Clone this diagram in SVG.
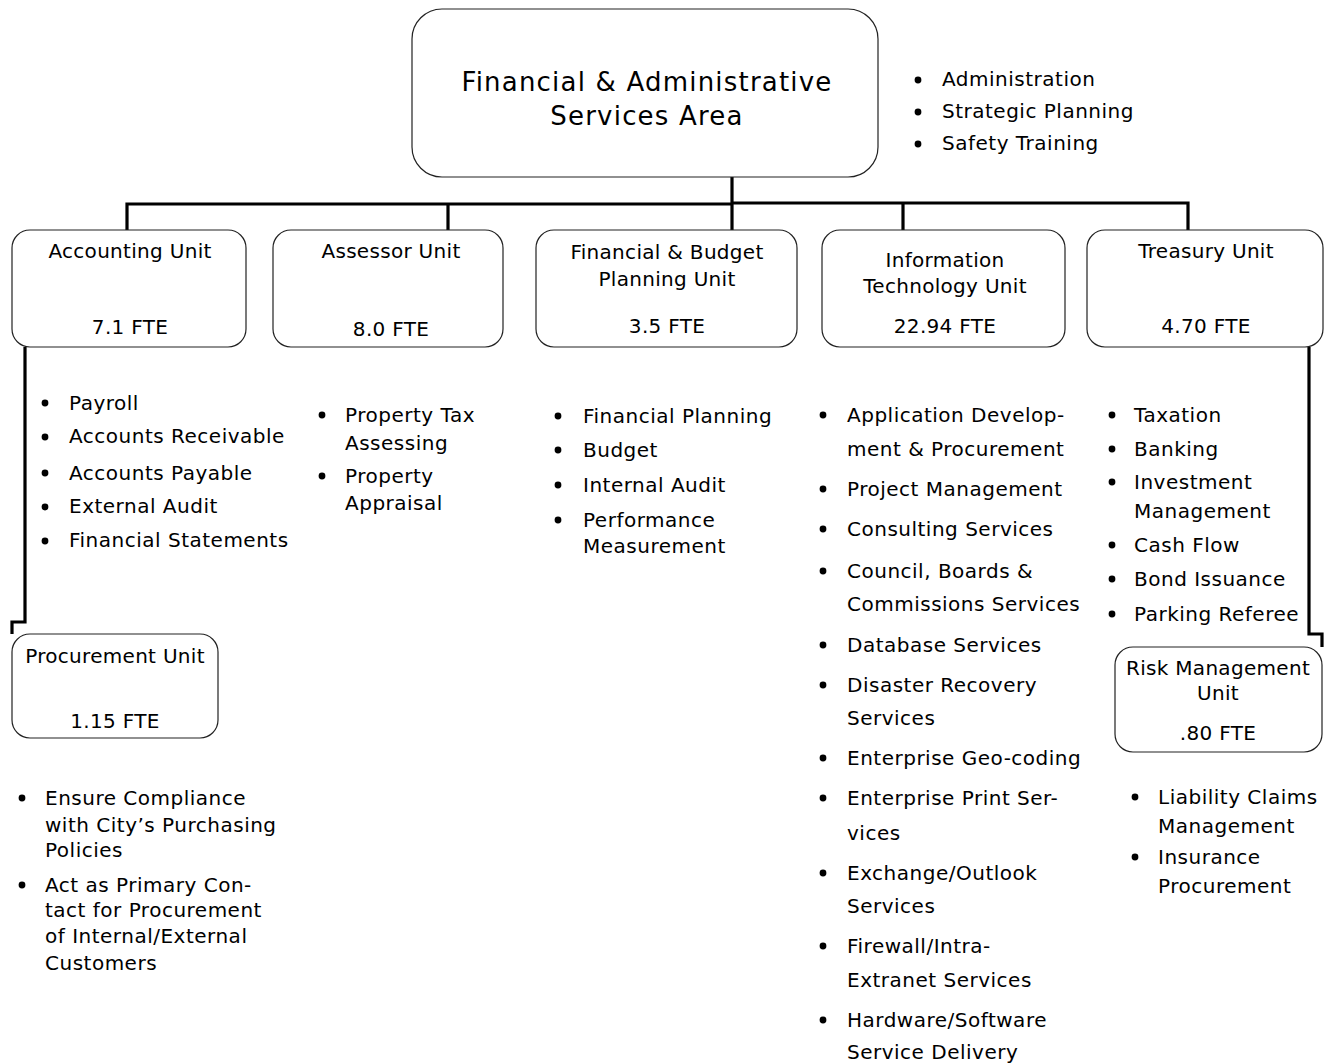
<svg xmlns="http://www.w3.org/2000/svg" width="1330" height="1064" viewBox="0 0 1330 1064">
  <style>
    text { font-family: "DejaVu Sans", Verdana, sans-serif; fill: #000; }
    .title { font-size: 26px; letter-spacing: 1.2px; text-anchor: middle; }
    .lbl { font-size: 20px; letter-spacing: 0.3px; text-anchor: middle; }
    .item { font-size: 20px; letter-spacing: 0.5px; }
    .box { fill: #fff; stroke: #222; stroke-width: 1.2; }
    .wire { fill: none; stroke: #000; stroke-width: 3.2; }
    .dot { fill: #000; }
  </style>

  <rect width="1330" height="1064" fill="#fff"/>

  <!-- connectors -->
  <g id="connectors">
    <path class="wire" d="M127,230 V204 H732"/>
    <path class="wire" d="M448,204 V230"/>
    <path class="wire" stroke-width="4" d="M732,203 H1188 V230"/>
    <path class="wire" d="M903,203 V230"/>
    <path class="wire" stroke-width="3.6" d="M732,177 V230"/>
    <path class="wire" d="M25,347 V622 H12 V634"/>
    <path class="wire" d="M1309,347 V634 H1322 V647"/>
  </g>

  <!-- top area -->
  <g id="area">
    <rect class="box" x="412" y="9" width="466" height="168" rx="30"/>
    <text class="title" x="647" y="91">Financial &amp; Administrative</text>
    <text class="title" x="647" y="125">Services Area</text>
  </g>
  <g id="area-duties">
    <circle class="dot" cx="918" cy="80" r="3.4"/>
    <circle class="dot" cx="918" cy="112" r="3.4"/>
    <circle class="dot" cx="918" cy="144" r="3.4"/>
    <text class="item" x="942" y="86">Administration</text>
    <text class="item" x="942" y="118">Strategic Planning</text>
    <text class="item" x="942" y="150">Safety Training</text>
  </g>

  <!-- units -->
  <g id="accounting">
    <rect class="box" x="12" y="230" width="234" height="117" rx="18"/>
    <text class="lbl" x="130" y="258">Accounting Unit</text>
    <text class="lbl" x="130" y="334">7.1 FTE</text>
    <circle class="dot" cx="45" cy="403" r="3.4"/>
    <circle class="dot" cx="45" cy="437" r="3.4"/>
    <circle class="dot" cx="45" cy="473" r="3.4"/>
    <circle class="dot" cx="45" cy="507" r="3.4"/>
    <circle class="dot" cx="45" cy="541" r="3.4"/>
    <text class="item" x="69" y="410">Payroll</text>
    <text class="item" x="69" y="443">Accounts Receivable</text>
    <text class="item" x="69" y="480">Accounts Payable</text>
    <text class="item" x="69" y="513">External Audit</text>
    <text class="item" x="69" y="547">Financial Statements</text>
  </g>

  <g id="assessor">
    <rect class="box" x="273" y="230" width="230" height="117" rx="18"/>
    <text class="lbl" x="391" y="258">Assessor Unit</text>
    <text class="lbl" x="391" y="336">8.0 FTE</text>
    <circle class="dot" cx="322" cy="415" r="3.4"/>
    <circle class="dot" cx="322" cy="476" r="3.4"/>
    <text class="item" x="345" y="422">Property Tax</text>
    <text class="item" x="345" y="450">Assessing</text>
    <text class="item" x="345" y="483">Property</text>
    <text class="item" x="345" y="510">Appraisal</text>
  </g>

  <g id="budget">
    <rect class="box" x="536" y="230" width="261" height="117" rx="18"/>
    <text class="lbl" x="667" y="259">Financial &amp; Budget</text>
    <text class="lbl" x="667" y="286">Planning Unit</text>
    <text class="lbl" x="667" y="333">3.5 FTE</text>
    <circle class="dot" cx="558" cy="416" r="3.4"/>
    <circle class="dot" cx="558" cy="450" r="3.4"/>
    <circle class="dot" cx="558" cy="485" r="3.4"/>
    <circle class="dot" cx="558" cy="520" r="3.4"/>
    <text class="item" x="583" y="423">Financial Planning</text>
    <text class="item" x="583" y="457">Budget</text>
    <text class="item" x="583" y="492">Internal Audit</text>
    <text class="item" x="583" y="527">Performance</text>
    <text class="item" x="583" y="553">Measurement</text>
  </g>

  <g id="it">
    <rect class="box" x="822" y="230" width="243" height="117" rx="18"/>
    <text class="lbl" x="945" y="267">Information</text>
    <text class="lbl" x="945" y="293">Technology Unit</text>
    <text class="lbl" x="945" y="333">22.94 FTE</text>
    <circle class="dot" cx="823" cy="415" r="3.4"/>
    <circle class="dot" cx="823" cy="489" r="3.4"/>
    <circle class="dot" cx="823" cy="529" r="3.4"/>
    <circle class="dot" cx="823" cy="571" r="3.4"/>
    <circle class="dot" cx="823" cy="645" r="3.4"/>
    <circle class="dot" cx="823" cy="685" r="3.4"/>
    <circle class="dot" cx="823" cy="758" r="3.4"/>
    <circle class="dot" cx="823" cy="798" r="3.4"/>
    <circle class="dot" cx="823" cy="873" r="3.4"/>
    <circle class="dot" cx="823" cy="946" r="3.4"/>
    <circle class="dot" cx="823" cy="1020" r="3.4"/>
    <text class="item" x="847" y="422">Application Develop-</text>
    <text class="item" x="847" y="456">ment &amp; Procurement</text>
    <text class="item" x="847" y="496">Project Management</text>
    <text class="item" x="847" y="536">Consulting Services</text>
    <text class="item" x="847" y="578">Council, Boards &amp;</text>
    <text class="item" x="847" y="611">Commissions Services</text>
    <text class="item" x="847" y="652">Database Services</text>
    <text class="item" x="847" y="692">Disaster Recovery</text>
    <text class="item" x="847" y="725">Services</text>
    <text class="item" x="847" y="765">Enterprise Geo-coding</text>
    <text class="item" x="847" y="805">Enterprise Print Ser-</text>
    <text class="item" x="847" y="840">vices</text>
    <text class="item" x="847" y="880">Exchange/Outlook</text>
    <text class="item" x="847" y="913">Services</text>
    <text class="item" x="847" y="953">Firewall/Intra-</text>
    <text class="item" x="847" y="987">Extranet Services</text>
    <text class="item" x="847" y="1027">Hardware/Software</text>
    <text class="item" x="847" y="1059">Service Delivery</text>
  </g>

  <g id="treasury">
    <rect class="box" x="1087" y="230" width="236" height="117" rx="18"/>
    <text class="lbl" x="1206" y="258">Treasury Unit</text>
    <text class="lbl" x="1206" y="333">4.70 FTE</text>
    <circle class="dot" cx="1112" cy="415" r="3.4"/>
    <circle class="dot" cx="1112" cy="449" r="3.4"/>
    <circle class="dot" cx="1112" cy="482" r="3.4"/>
    <circle class="dot" cx="1112" cy="545" r="3.4"/>
    <circle class="dot" cx="1112" cy="579" r="3.4"/>
    <circle class="dot" cx="1112" cy="614" r="3.4"/>
    <text class="item" x="1134" y="422">Taxation</text>
    <text class="item" x="1134" y="456">Banking</text>
    <text class="item" x="1134" y="489">Investment</text>
    <text class="item" x="1134" y="518">Management</text>
    <text class="item" x="1134" y="552">Cash Flow</text>
    <text class="item" x="1134" y="586">Bond Issuance</text>
    <text class="item" x="1134" y="621">Parking Referee</text>
  </g>

  <g id="procurement">
    <rect class="box" x="12" y="634" width="206" height="104" rx="18"/>
    <text class="lbl" x="115" y="663">Procurement Unit</text>
    <text class="lbl" x="115" y="728">1.15 FTE</text>
    <circle class="dot" cx="22" cy="798" r="3.4"/>
    <circle class="dot" cx="22" cy="885" r="3.4"/>
    <text class="item" x="45" y="805">Ensure Compliance</text>
    <text class="item" x="45" y="832">with City’s Purchasing</text>
    <text class="item" x="45" y="857">Policies</text>
    <text class="item" x="45" y="892">Act as Primary Con-</text>
    <text class="item" x="45" y="917">tact for Procurement</text>
    <text class="item" x="45" y="943">of Internal/External</text>
    <text class="item" x="45" y="970">Customers</text>
  </g>

  <g id="risk">
    <rect class="box" x="1115" y="647" width="207" height="105" rx="18"/>
    <text class="lbl" x="1218" y="675">Risk Management</text>
    <text class="lbl" x="1218" y="700">Unit</text>
    <text class="lbl" x="1218" y="740">.80 FTE</text>
    <circle class="dot" cx="1135" cy="797" r="3.4"/>
    <circle class="dot" cx="1135" cy="857" r="3.4"/>
    <text class="item" x="1158" y="804">Liability Claims</text>
    <text class="item" x="1158" y="833">Management</text>
    <text class="item" x="1158" y="864">Insurance</text>
    <text class="item" x="1158" y="893">Procurement</text>
  </g>
</svg>
